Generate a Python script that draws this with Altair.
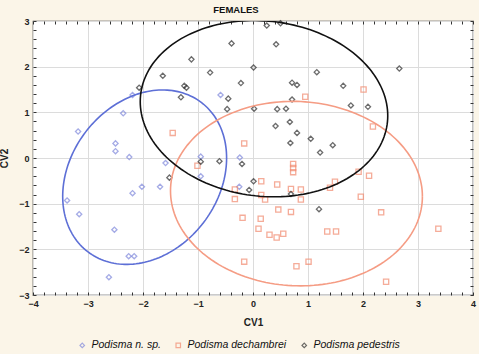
import altair as alt
import numpy as np
import pandas as pd

# ---------------- data ----------------
nsp_x = [-2.19, -0.59, -2.36, -3.18, -2.50, -2.50, -2.25, -0.95, -0.24, -1.59, -0.95,
         -2.02, -1.69, -2.19, -0.25, -3.38, -3.16, -2.52, -2.26, -2.16, -2.62]
nsp_y = [1.38, 1.38, 0.98, 0.58, 0.32, 0.15, 0.02, 0.03, 0.01, -0.11, -0.40,
         -0.63, -0.63, -0.77, -0.63, -0.93, -1.23, -1.57, -2.15, -2.15, -2.61]

dec_x = [-1.46, -0.16, 0.95, 2.01, 2.18, -1.01, -0.33, -0.33, -0.19, -0.16, 0.73, 0.73, 0.73,
         1.92, 2.11, 0.15, 0.44, 1.49, 1.40, 0.69, 0.87, 0.15, 0.22, 0.87, 1.96, 0.46, 0.69,
         2.33, 0.14, 0.10, 1.35, 1.51, 0.30, 0.43, 0.55, 3.37, 1.01, 0.79, 2.42]
dec_y = [0.55, 0.32, 1.34, 1.50, 0.69, -0.17, -0.69, -0.90, -1.31, -2.27, -0.13, -0.22, -0.31,
         -0.30, -0.39, -0.51, -0.58, -0.52, -0.65, -0.68, -0.69, -0.81, -0.91, -0.91, -0.85, -1.13, -1.18,
         -1.19, -1.33, -1.55, -1.61, -1.61, -1.68, -1.74, -1.66, -1.55, -2.27, -2.37, -2.71]

ped_x = [-0.39, -1.12, -0.78, -1.64, -0.22, -1.25, -1.21, -2.07, -1.31, -0.45, -0.47, 0.25, 0.50,
         0.42, 0.01, 1.16, 2.66, 0.71, 0.80, 1.64, 0.71, 0.02, 0.44, 0.60, 1.78, 2.09, 0.67, 0.41,
         0.80, 1.05, 0.68, 1.45, 1.22, -0.95, -0.61, -0.20, -1.52, 0.01, -0.07, 0.69, 1.20]
ped_y = [2.51, 2.16, 1.87, 1.80, 1.64, 1.58, 1.54, 1.54, 1.33, 1.30, 1.07, 2.90, 2.95,
         2.49, 1.98, 1.88, 1.96, 1.65, 1.60, 1.58, 1.28, 1.08, 1.07, 1.08, 1.15, 1.12, 0.79, 0.70,
         0.55, 0.42, 0.33, 0.28, 0.12, -0.08, -0.07, -0.13, -0.43, -0.51, -0.70, -0.79, -1.12]

species = ["Podisma n. sp.", "Podisma dechambrei", "Podisma pedestris"]

# ellipse parameters: centre x, centre y, x half-extent, y half-extent, correlation
ell_cx = [-1.97, 0.79, 0.20]
ell_cy = [-0.42, -0.78, 1.08]
ell_sx = [1.49, 2.29, 2.25]
ell_sy = [1.91, 2.02, 1.93]
ell_r = [0.22, -0.03, -0.08]

x_ticks = [round(-4 + 0.2 * i, 1) for i in range(41)]
y_ticks = [round(-3 + 0.2 * i, 1) for i in range(31)]

# ---------------- styling ----------------
pt_colors = ["#7F88DC", "#F2896E", "#2E2E2E"]
ell_colors = ["#5D6FD6", "#F59C84", "#111111"]
shapes = ["diamond", "square", "diamond"]
BG = "#FBF5E8"

rows = []
for sp, xs, ys in zip(species, [nsp_x, dec_x, ped_x], [nsp_y, dec_y, ped_y]):
    for a, b in zip(xs, ys):
        rows.append({"species": sp, "CV1": a, "CV2": b})
pts = pd.DataFrame(rows)

t = np.linspace(0, 2 * np.pi, 181)
erows = []
for i, sp in enumerate(species):
    r = ell_r[i]
    ex = ell_cx[i] + ell_sx[i] * np.cos(t)
    ey = ell_cy[i] + ell_sy[i] * (r * np.cos(t) + np.sqrt(1 - r * r) * np.sin(t))
    for k in range(len(t)):
        erows.append({"species": sp, "CV1": float(ex[k]), "CV2": float(ey[k]), "o": k})
ell = pd.DataFrame(erows)

is_int = "abs(datum.value - round(datum.value)) < 0.01"
lab_expr = f"{is_int} ? format(datum.value, 'd') : ''"
grid_col = {"condition": {"test": is_int, "value": "#DCDCDC"}, "value": "transparent"}

xsc = alt.Scale(domain=[-4, 4], nice=False, zero=False)
ysc = alt.Scale(domain=[-3, 3], nice=False, zero=False)

common = dict(domain=False, tickSize=3, offset=-3, tickColor="#333333", tickWidth=1,
              labelFont="Liberation Sans", labelFontSize=9, labelFontWeight="bold",
              labelColor="#222222", labelOverlap=False, labelFlush=False,
              titleFont="Liberation Sans", titleFontSize=10, titleFontWeight="bold",
              titleColor="#222222")

x_bottom = alt.Axis(orient="bottom", values=x_ticks, labelExpr=lab_expr, labelPadding=4,
                    grid=True, gridColor=grid_col, title="CV1", titlePadding=9, **common)
y_left = alt.Axis(orient="left", values=y_ticks, labelExpr=lab_expr, labelPadding=4,
                  grid=True, gridColor=grid_col, title="CV2", titlePadding=9, **common)
x_top = alt.Axis(orient="top", values=x_ticks, labels=False, grid=False, title=None, **common)
y_right = alt.Axis(orient="right", values=y_ticks, labels=False, grid=False, title=None, **common)

sel_color = alt.Scale(domain=species, range=pt_colors)
sel_shape = alt.Scale(domain=species, range=shapes)

points = alt.Chart(pts).mark_point(filled=False, size=27, strokeWidth=1.3).encode(
    x=alt.X("CV1:Q", scale=xsc, axis=x_bottom),
    y=alt.Y("CV2:Q", scale=ysc, axis=y_left),
    color=alt.Color("species:N", scale=sel_color, sort=species,
                    legend=alt.Legend(title=None, orient="none", direction="horizontal",
                                      legendX=44, legendY=319, labelFontStyle="italic",
                                      labelFont="Liberation Sans", labelFontSize=10.5,
                                      labelColor="#111111", symbolSize=20,
                                      symbolStrokeWidth=1.2, columnPadding=12,
                                      labelLimit=200)),
    shape=alt.Shape("species:N", scale=sel_shape, sort=species),
)

frame_axes = alt.Chart(pts).mark_point(opacity=0).encode(
    x=alt.X("CV1:Q", scale=xsc, axis=x_top),
    y=alt.Y("CV2:Q", scale=ysc, axis=y_right),
)

ell_layers = []
for i, sp in enumerate(species):
    ell_layers.append(
        alt.Chart(ell[ell["species"] == sp]).mark_line(
            color=ell_colors[i], strokeWidth=1.6, clip=True
        ).encode(
            x=alt.X("CV1:Q", scale=xsc, axis=None),
            y=alt.Y("CV2:Q", scale=ysc, axis=None),
            order="o:Q",
        )
    )

chart = alt.layer(points, frame_axes, *ell_layers).resolve_axis(
    x="independent", y="independent"
).properties(
    width=440, height=274,
    title=alt.TitleParams("FEMALES", font="Liberation Sans", fontSize=9.5, fontWeight="bold",
                          color="#111111", anchor="middle", dx=-17, offset=3),
    background=BG,
    padding={"left": 33, "top": 21, "right": 6, "bottom": 59},
    autosize=alt.AutoSizeParams(type="none"),
).configure_view(
    stroke="#333333", strokeWidth=1.2, fill="white"
)

chart.save("out.html", embed_options={"renderer": "svg", "actions": False})
